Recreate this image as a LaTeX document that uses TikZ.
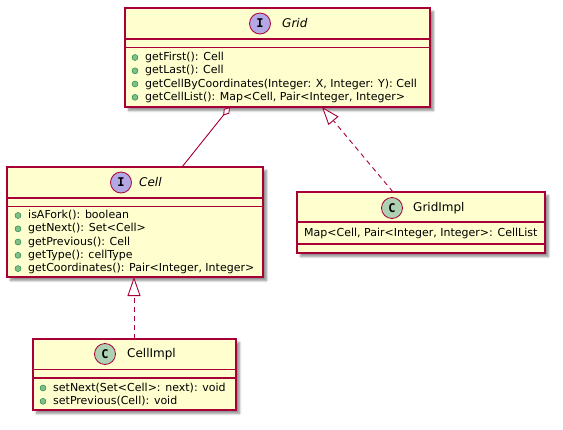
\documentclass[tikz,border=0pt]{standalone}
\usepackage{fontspec}
\setmainfont{DejaVu Sans}
\newfontfamily\stereofont{DejaVu Sans Mono}
\usetikzlibrary{arrows.meta,shadows.blur,calc}
\definecolor{umlborder}{HTML}{A80036}
\definecolor{umlfill}{HTML}{FEFECE}
\definecolor{ifacecircle}{HTML}{B4A7E5}
\definecolor{classcircle}{HTML}{ADD1B2}
\definecolor{dotfill}{HTML}{84BE84}
\definecolor{dotdraw}{HTML}{038048}
\begin{document}
\begin{tikzpicture}[x=1pt,y=-1pt,
  classbox/.style={draw=umlborder, fill=umlfill, line width=1.1pt, anchor=north west,
    inner sep=0pt, outer sep=0pt,
    blur shadow={shadow xshift=3.5pt, shadow yshift=-3.5pt, shadow blur steps=6, shadow opacity=45}},
  sep/.style={draw=umlborder, line width=1.1pt},
  spot/.style={circle, draw=umlborder, line width=0.8pt, minimum size=21pt, inner sep=0pt,
    font=\stereofont\bfseries\fontsize{12}{12}\selectfont},
  iface/.style={spot, fill=ifacecircle},
  cls/.style={spot, fill=classcircle},
  cname/.style={anchor=west, inner sep=0pt, font=\fontsize{12}{14}\selectfont},
  member/.style={anchor=west, inner sep=0pt, font=\fontsize{11}{13}\selectfont},
  pub/.style={circle, fill=dotfill, draw=dotdraw, line width=0.4pt, minimum size=6pt, inner sep=0pt},
  link/.style={draw=umlborder, line width=0.9pt},
  realize/.style={link, dash pattern=on 5pt off 4pt},
]
\useasboundingbox (0,0) rectangle (563,429);

% ---- Grid (interface)
\node[classbox, minimum width=305pt, minimum height=99pt] (grid) at (125,8) {};
\draw[sep] (125,39) -- (430,39);
\draw[sep] (125,47.5) -- (430,47.5);
\node[iface] (gridspot) at (260,23.5) {I};
\node[cname] (gridname) at (282,23.5) {\itshape Grid};
\foreach \y/\t [count=\i] in {57.5/{getFirst(): Cell},
    70.8/{getLast(): Cell},
    84/{getCellByCoordinates(Integer: X, Integer: Y): Cell},
    97.3/{getCellList(): Map<Cell, Pair<Integer, Integer>}} {
  \node[pub] (gdot\i) at (135,\y) {};
  \node[member] (gm\i) at (145,\y) {\t};
}

% ---- Cell (interface)
\node[classbox, minimum width=256pt, minimum height=110pt] (cell) at (7,167) {};
\draw[sep] (7,198) -- (263,198);
\draw[sep] (7,206.5) -- (263,206.5);
\node[iface] (cellspot) at (121,182.5) {I};
\node[cname] (cellname) at (139,182.5) {\itshape Cell};
\foreach \y/\t [count=\i] in {215.5/{isAFork(): boolean},
    228.8/{getNext(): Set<Cell>},
    242/{getPrevious(): Cell},
    255.3/{getType(): cellType},
    268.6/{getCoordinates(): Pair<Integer, Integer>}} {
  \node[pub] (cdot\i) at (18,\y) {};
  \node[member] (cm\i) at (28,\y) {\t};
}

% ---- GridImpl (class)
\node[classbox, minimum width=248pt, minimum height=61pt] (gridimpl) at (297,192) {};
\draw[sep] (297,222) -- (545,222);
\draw[sep] (297,244) -- (545,244);
\node[cls] (gispot) at (392,208) {C};
\node[cname] (giname) at (413,208) {GridImpl};
\node[member] (gifield) at (304,233.5) {Map<Cell, Pair<Integer, Integer>: CellList};

% ---- CellImpl (class)
\node[classbox, minimum width=203pt, minimum height=71pt] (cellimpl) at (33,339) {};
\draw[sep] (33,369.5) -- (236,369.5);
\draw[sep] (33,378) -- (236,378);
\node[cls] (cispot) at (105,354) {C};
\node[cname] (ciname) at (127,354) {CellImpl};
\foreach \y/\t [count=\i] in {388/{setNext(Set<Cell>: next): void},
    401.3/{setPrevious(Cell): void}} {
  \node[pub] (cidot\i) at (43,\y) {};
  \node[member] (cim\i) at (53,\y) {\t};
}

% ---- relations
% aggregation: Grid o-- Cell
\draw[link, {Diamond[open, fill=white, length=11pt, width=7pt]}-]
  ($(grid.south west)+(105,0)$) -- ($(cell.north west)+(175,0)$);
% realization: GridImpl ..|> Grid
\draw[realize, -{Triangle[open, fill=white, length=18pt, width=13pt]}]
  ($(gridimpl.north west)+(96,0)$) -- ($(grid.south west)+(197,0)$);
% realization: CellImpl ..|> Cell
\draw[realize, -{Triangle[open, fill=white, length=19pt, width=13pt]}]
  ($(cellimpl.north west)+(101,0)$) -- ($(cell.south west)+(127,0)$);
\end{tikzpicture}
\end{document}
